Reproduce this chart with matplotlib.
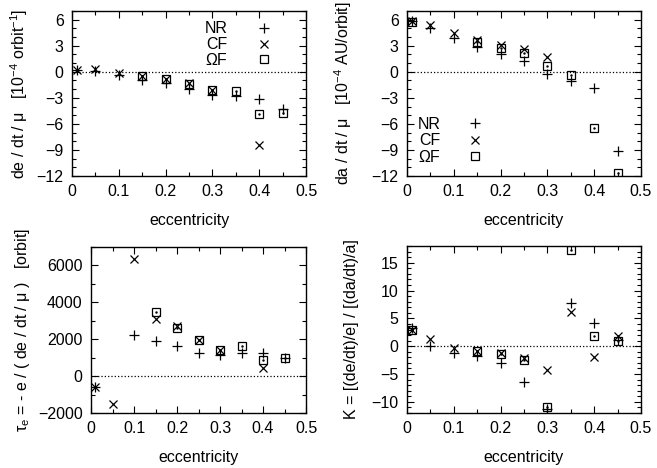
import numpy as np
import matplotlib
matplotlib.use("Agg")
import matplotlib.pyplot as plt
from matplotlib.ticker import MultipleLocator

plt.rcParams["font.family"] = ["Liberation Sans", "DejaVu Sans"]
plt.rcParams["font.size"] = 11.5
plt.rcParams["mathtext.fontset"] = "custom"
plt.rcParams["mathtext.rm"] = "Liberation Sans"
plt.rcParams["mathtext.it"] = "Liberation Sans"

nan = np.nan
ecc = [0.01, 0.05, 0.10, 0.15, 0.20, 0.25, 0.30, 0.35, 0.40, 0.45]

# de/dt/mu  [1e-4 / orbit]
dedt_nr = [0.15, 0.1, -0.4, -0.9, -1.3, -1.95, -2.7, -2.8, -3.1, -4.25]
dedt_cf = [0.15, 0.35, -0.15, -0.5, -0.85, -1.3, -2.1, nan, -8.45, nan]
dedt_of = [nan, nan, nan, -0.5, -0.88, -1.35, -2.15, -2.2, -4.9, -4.7]

# da/dt/mu  [1e-4 AU / orbit]
dadt_nr = [5.8, 5.05, 3.9, 2.8, 2.0, 1.2, -0.2, -1.05, -1.85, -9.15]
dadt_cf = [5.8, 5.4, 4.5, 3.7, 3.05, 2.6, 1.75, nan, nan, nan]
dadt_of = [5.7, nan, nan, 3.4, 2.75, 2.15, 0.65, -0.35, -6.45, -11.65]

# tau_e  [orbit]
tau_nr = [-580, nan, 2210, 1900, 1615, 1255, 1120, 1255, 1275, 1000]
tau_cf = [-600, -1530, 6340, 3100, 2700, 1975, 1400, nan, 450, nan]
tau_of = [nan, nan, nan, 3500, 2620, 1975, 1400, 1615, 860, 990]

# K
k_nr = [3.3, -0.05, -1.25, -1.85, -3.05, -6.4, -11.2, 7.7, 4.2, 1.1]
k_cf = [2.9, 1.25, -0.35, -0.85, -1.25, -2.15, -4.25, 6.2, -1.95, 1.85]
k_of = [3.0, nan, nan, -0.85, -1.35, -2.4, -11.0, 17.2, 1.9, 0.95]

labels = ["NR", "CF", "ΩF"]

W, H = 657, 468
fig = plt.figure(figsize=(W / 100, H / 100), dpi=100)


def make_axes(x0, x1, ytop, ybot):
    return fig.add_axes([x0 / W, (H - ybot) / H, (x1 - x0) / W, (ybot - ytop) / H])


ax_tl = make_axes(72, 306, 11, 176)
ax_tr = make_axes(407, 641, 11, 176)
ax_bl = make_axes(91, 306, 247, 413)
ax_br = make_axes(407, 641, 246, 413)


def draw(ax, nr, cf, of):
    h1, = ax.plot(ecc, nr, ls="none", marker="+", ms=7, mew=0.9, color="k")
    h2, = ax.plot(ecc, cf, ls="none", marker="x", ms=6, mew=0.9, color="k")
    h3, = ax.plot(ecc, of, ls="none", marker="s", ms=5.5, mew=0.9, mfc="none", color="k")
    ax.plot(ecc, of, ls="none", marker=".", ms=1.5, color="k")
    ax.axhline(0, ls=":", color="k", lw=0.9)
    ax.set_xlim(0, 0.5)
    ax.xaxis.set_major_locator(MultipleLocator(0.1))
    ax.xaxis.set_minor_locator(MultipleLocator(0.05))
    ax.xaxis.set_major_formatter(plt.FuncFormatter(lambda v, p: "0" if v == 0 else f"{v:.1f}"))
    ax.tick_params(which="both", direction="in", top=True, right=True, width=0.8)
    ax.tick_params(which="major", length=5, pad=6)
    ax.tick_params(which="minor", length=3)
    for s in ax.spines.values():
        s.set_linewidth(1.0)
    ax.set_xlabel("eccentricity")
    ax.xaxis.set_label_coords(0.5, -0.222)
    return [h1, h2, h3]


hs = draw(ax_tl, dedt_nr, dedt_cf, dedt_of)
ax_tl.set_ylim(-12, 7)
ax_tl.yaxis.set_major_locator(MultipleLocator(3))
ax_tl.yaxis.set_minor_locator(MultipleLocator(1))
ax_tl.set_ylabel(r"de / dt / $\mu$   [10$^{-4}$ orbit$^{-1}$]")
ax_tl.yaxis.set_label_coords(-0.18, 0.5)
ax_tl.legend(hs, labels, loc="upper right", bbox_to_anchor=(0.91, 1.015),
             frameon=False, markerfirst=False, handlelength=1.0,
             handletextpad=1.8, labelspacing=0.05, borderpad=0.3)

hs = draw(ax_tr, dadt_nr, dadt_cf, dadt_of)
ax_tr.set_ylim(-12, 7)
ax_tr.yaxis.set_major_locator(MultipleLocator(3))
ax_tr.yaxis.set_minor_locator(MultipleLocator(1))
ax_tr.set_ylabel(r"da / dt / $\mu$   [10$^{-4}$ AU/orbit]")
ax_tr.yaxis.set_label_coords(-0.227, 0.5)
ax_tr.legend(hs, labels, loc="lower left", bbox_to_anchor=(-0.01, -0.01),
             frameon=False, markerfirst=False, handlelength=1.0,
             handletextpad=1.7, labelspacing=0.1, borderpad=0.3)

draw(ax_bl, tau_nr, tau_cf, tau_of)
ax_bl.set_ylim(-2000, 7000)
ax_bl.yaxis.set_major_locator(MultipleLocator(2000))
ax_bl.yaxis.set_minor_locator(MultipleLocator(1000))
ax_bl.set_ylabel(r"$\tau_e$ = - e / ( de / dt / $\mu$ )   [orbit]")
ax_bl.yaxis.set_label_coords(-0.275, 0.5)

draw(ax_br, k_nr, k_cf, k_of)
ax_br.set_ylim(-12, 18)
ax_br.yaxis.set_major_locator(MultipleLocator(5))
ax_br.yaxis.set_minor_locator(MultipleLocator(1))
ax_br.set_ylabel("K = [(de/dt)/e] / [(da/dt)/a]")
ax_br.yaxis.set_label_coords(-0.205, 0.5)

fig.savefig("out.png", dpi=100)
